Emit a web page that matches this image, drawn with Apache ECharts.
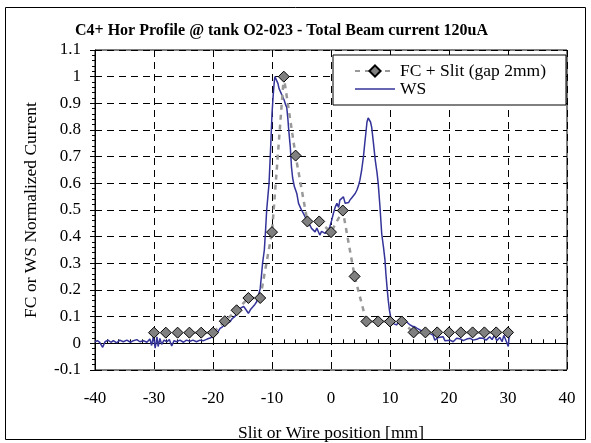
<!DOCTYPE html>
<html lang="en">
  <head>
    <meta charset="UTF-8" />
    <title>C4+ Hor Profile</title>
    <script src="https://cdn.jsdelivr.net/npm/echarts@6/dist/echarts.min.js"></script>
    <style>
      html, body { margin: 0; padding: 0; background: #fff; }
      #main { width: 591px; height: 443px; }
    </style>
  </head>
  <body>
    <div id="main"></div>
    <script>
      // FC + Slit: one reading every 2 mm
      var fcX = [-30, -28, -26, -24, -22, -20, -18, -16, -14, -12, -10, -8, -6, -4, -2, 0,
        2, 4, 6, 8, 10, 12, 14, 16, 18, 20, 22, 24, 26, 28, 30];
      var fcY = [0.04, 0.04, 0.04, 0.04, 0.04, 0.04, 0.083, 0.124, 0.17, 0.17, 0.417, 1.0, 0.704, 0.457, 0.457, 0.417,
        0.498, 0.251, 0.082, 0.082, 0.082, 0.082, 0.041, 0.041, 0.041, 0.041, 0.041, 0.041, 0.041, 0.041, 0.041];

      // wire scanner trace
      var wsX = [-40, -39.6, -39.2, -38.7, -38.3, -37.8, -37.3, -36.9, -36.3, -35.8, -35.2, -34.6, -34, -33.5,
        -32.9, -32.4, -31.8, -31.2, -30.7, -30.4, -30.1, -29.8, -29.5, -29.3, -29, -28.7, -28.3, -27.8,
        -27.4, -27, -26.6, -26.2, -25.6, -25, -24.5, -23.9, -23.4, -22.8, -22.2, -21.6, -21, -20.5,
        -20, -19.6, -19.2, -18.8, -18.4, -18, -17.6, -17.1, -16.7, -16.3, -15.9, -15.6, -15.2, -14.8,
        -14.4, -14, -13.6, -13.2, -12.9, -12.6, -12.3, -12, -11.8, -11.6, -11.3, -11.1, -10.9, -10.7,
        -10.5, -10.3, -10.2, -10, -9.8, -9.6, -9.5, -9.3, -9, -8.8, -8.5, -8.3, -8.1, -7.9, -7.7, -7.5,
        -7.3, -7.2, -7, -6.9, -6.7, -6.5, -6.2, -6, -5.8, -5.5, -5.2, -5, -4.7, -4.4, -4.1, -3.8, -3.5,
        -3.3, -3, -2.7, -2.4, -2.15, -1.9, -1.6, -1.3, -1, -0.7, -0.4, -0.2, 0.1, 0.4, 0.7, 1, 1.3,
        1.5, 1.8, 2.1, 2.4, 2.7, 3, 3.2, 3.5, 3.8, 4.1, 4.4, 4.7, 4.9, 5.2, 5.5, 5.7, 5.9, 6.1, 6.3,
        6.5, 6.7, 6.9, 7.2, 7.5, 7.8, 8, 8.3, 8.6, 8.9, 9.15, 9.3, 9.5, 9.7, 9.9, 10.1, 10.3, 10.5,
        10.8, 11.1, 11.4, 11.7, 12, 12.4, 12.8, 13.1, 13.4, 13.8, 14.2, 14.6, 15.1, 15.5, 15.9, 16.4,
        16.8, 17.3, 17.6, 17.9, 18.2, 18.5, 19, 19.3, 19.6, 20.2, 20.7, 21.3, 21.6, 22, 22.4, 23,
        23.6, 24.1, 24.7, 25.2, 25.8, 26.3, 26.9, 27.3, 27.7, 28.1, 28.6, 29, 29.3, 29.5, 29.8, 30.05,
        30.2, 30.3];
      var wsY = [0.006, 0.01, 0.004, -0.015, 0.006, 0.012, 0.004, 0.01, 0.002, 0.012, 0.006, 0.012, 0.004, 0.01,
        0.014, 0.006, 0.01, 0.004, 0.016, -0.008, 0.026, -0.018, 0.024, -0.012, 0.018, -0.004, 0.012, 0.006,
        0.014, -0.01, 0.01, 0.006, 0.012, 0.004, 0.012, 0.008, 0.012, 0.006, 0.012, 0.01, 0.016, 0.02,
        0.026, 0.032, 0.042, 0.056, 0.062, 0.07, 0.076, 0.082, 0.094, 0.1, 0.116, 0.126, 0.134, 0.138,
        0.126, 0.112, 0.128, 0.138, 0.146, 0.156, 0.18, 0.205, 0.25, 0.3, 0.35, 0.42, 0.5, 0.55,
        0.6, 0.7, 0.75, 0.86, 0.93, 0.985, 1.0, 0.99, 0.975, 0.955, 0.94, 0.945, 0.92, 0.91, 0.895, 0.885,
        0.84, 0.81, 0.76, 0.737, 0.662, 0.62, 0.587, 0.575, 0.562, 0.525, 0.51, 0.5, 0.488, 0.475, 0.462, 0.45, 0.44,
        0.431, 0.425, 0.418, 0.432, 0.425, 0.406, 0.42, 0.425, 0.412, 0.418, 0.428, 0.437, 0.46, 0.487, 0.51, 0.525, 0.51,
        0.537, 0.53, 0.55, 0.525, 0.532, 0.528, 0.537, 0.545, 0.55, 0.562, 0.575, 0.595, 0.612, 0.65, 0.7, 0.745, 0.787, 0.83, 0.845,
        0.843, 0.83, 0.81, 0.75, 0.687, 0.64, 0.6, 0.512, 0.41, 0.36, 0.312, 0.262, 0.21, 0.162, 0.125, 0.1, 0.085, 0.075,
        0.082, 0.069, 0.078, 0.072, 0.075, 0.088, 0.081, 0.074, 0.069, 0.064, 0.062, 0.056, 0.05, 0.046, 0.044, 0.04,
        0.037, 0.031, 0.012, 0.006, 0.022, 0.019, 0.025, 0.01, 0.012, 0.012, 0.006, 0.019, 0.012, 0.016, 0.01, 0.016,
        0.019, 0.012, 0.015, 0.02, 0.019, 0.012, 0.025, 0.014, 0.031, 0.01, 0.022, 0.006, 0.03, 0.037, 0.002, -0.012,
        0.03, 0.022];

      var font = "'Liberation Serif', 'Times New Roman', serif";

      function pairs(xs, ys) {
        return xs.map(function (x, i) { return [x, ys[i]]; });
      }

      var chart = echarts.init(document.getElementById('main'));
      var gridDash = { color: '#000', width: 1, type: [7, 5] };

      chart.setOption({
        animation: false,
        backgroundColor: '#fff',
        textStyle: { fontFamily: font },
        title: {
          text: 'C4+ Hor Profile @ tank O2-023 - Total Beam current 120uA',
          left: 75,
          top: 23,
          padding: 0,
          textStyle: { fontFamily: font, fontSize: 16, fontWeight: 'bold', color: '#000' }
        },
        graphic: [{
          type: 'rect',
          shape: { x: 5.5, y: 7.5, width: 580, height: 432 },
          style: { fill: 'none', stroke: '#000', lineWidth: 1 },
          silent: true
        }],
        legend: {
          orient: 'vertical',
          left: 333,
          top: 55,
          padding: [7, 20, 7, 21],
          itemWidth: 40,
          itemHeight: 14,
          itemGap: 0,
          backgroundColor: '#fff',
          borderColor: '#000',
          borderWidth: 1,
          borderRadius: 0,
          data: [
            { name: 'FC + Slit (gap 2mm)' },
            { name: 'WS', icon: 'path://M0,0 L40,0 L40,1.5 L0,1.5 Z' }
          ],
          textStyle: { fontFamily: font, fontSize: 17.5, lineHeight: 14, color: '#000' }
        },
        grid: {
          left: 95, right: 24, top: 50, bottom: 73,
          outerBoundsMode: 'none',
          containLabel: false,
          show: true, borderColor: '#000', borderWidth: 1
        },
        xAxis: [{
          type: 'value',
          min: -40, max: 40, interval: 10,
          position: 'bottom',
          name: 'Slit or Wire position [mm]',
          nameLocation: 'middle',
          nameGap: 54,
          nameTextStyle: { fontFamily: font, fontSize: 17.5, color: '#000' },
          axisLine: { show: false, onZero: false },
          axisTick: { show: false },
          axisLabel: { margin: 20, fontFamily: font, fontSize: 17, color: '#000' },
          splitLine: { show: true, lineStyle: gridDash }
        }, {
          type: 'value',
          min: -40, max: 40, interval: 10,
          position: 'bottom',
          axisLine: { show: true, onZero: true, lineStyle: { color: '#000', width: 1 } },
          axisTick: { show: true, inside: true, length: 5, lineStyle: { color: '#000' } },
          minorTick: { show: true, splitNumber: 5, length: 4, lineStyle: { color: '#000' } },
          axisLabel: { show: false },
          splitLine: { show: false }
        }],
        yAxis: {
          type: 'value',
          min: -0.1, max: 1.1, interval: 0.1,
          name: 'FC or WS Normalized Current',
          nameLocation: 'middle',
          nameGap: 55,
          nameTextStyle: { fontFamily: font, fontSize: 17.5, color: '#000' },
          axisLine: { show: true, onZero: false, lineStyle: { color: '#000', width: 1 } },
          axisTick: { show: true, length: 5, lineStyle: { color: '#000' } },
          minorTick: { show: true, splitNumber: 5, length: 3, lineStyle: { color: '#000' } },
          axisLabel: { margin: 14, fontFamily: font, fontSize: 17, color: '#000' },
          splitLine: { show: true, lineStyle: gridDash }
        },
        series: [{
          name: 'FC + Slit (gap 2mm)',
          type: 'line',
          xAxisIndex: 0,
          z: 4,
          data: pairs(fcX, fcY),
          symbol: 'diamond',
          symbolSize: 11,
          itemStyle: { color: '#808080', borderColor: '#000', borderWidth: 1 },
          lineStyle: { color: '#999', width: 2.5, type: [5, 5] }
        }, {
          name: 'WS',
          type: 'line',
          xAxisIndex: 0,
          z: 3,
          data: pairs(wsX, wsY),
          symbol: 'none',
          itemStyle: { color: '#33339a' },
          lineStyle: { color: '#33339a', width: 1.5 }
        }]
      });
    </script>
  </body>
</html>
